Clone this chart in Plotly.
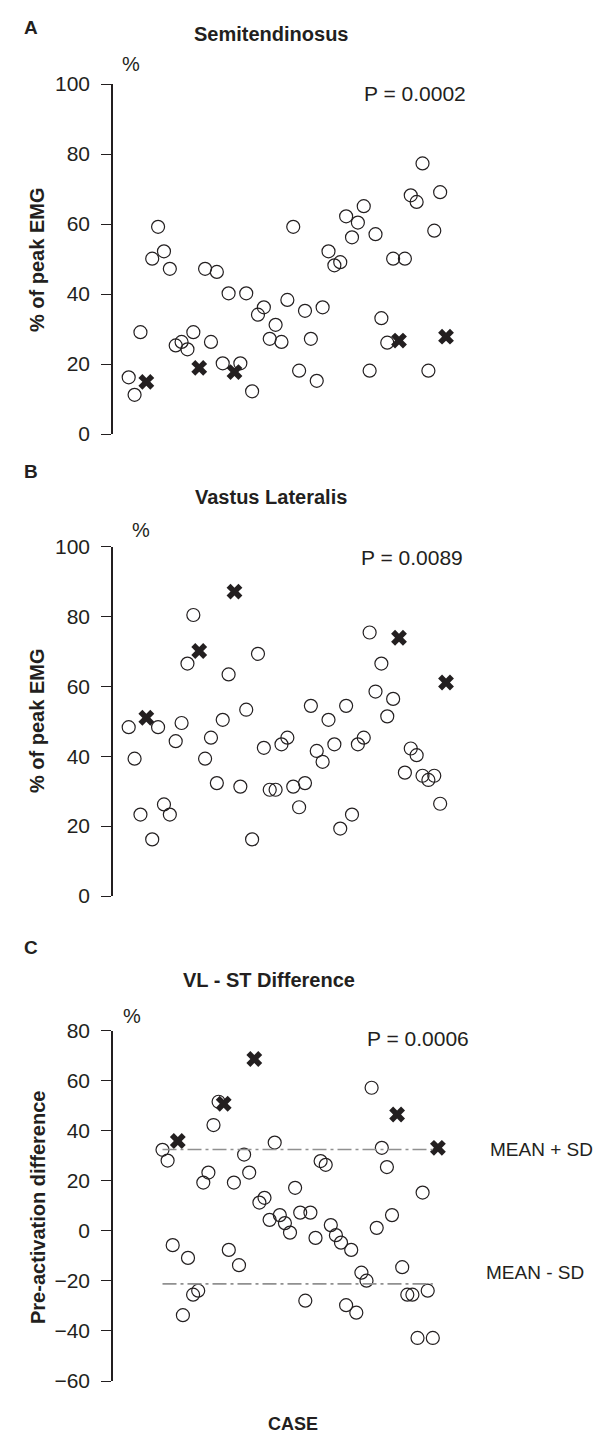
import plotly.graph_objects as go

# ---------------- data ----------------
cases = list(range(1, 56))
marked_cases = [4, 13, 19, 47, 55]

st_values = [16.2, 11.2, 29.1, 14.9, 50.1, 59.2, 52.2, 47.2, 25.3, 26.3,
             24.2, 29.1, 18.9, 47.2, 26.3, 46.3, 20.2, 40.2, 17.7, 20.2,
             40.2, 12.2, 34.1, 36.2, 27.2, 31.2, 26.3, 38.3, 59.2, 18.1,
             35.2, 27.2, 15.2, 36.2, 52.2, 48.2, 49.1, 62.2, 56.2, 60.4,
             65.1, 18.1, 57.1, 33.1, 26.1, 50.1, 26.7, 50.1, 68.2, 66.3,
             77.3, 18.1, 58.1, 69.1, 27.8]

vl_values = [48.3, 39.3, 23.3, 51.0, 16.2, 48.3, 26.2, 23.3, 44.3, 49.5,
             66.5, 80.4, 70.1, 39.3, 45.3, 32.3, 50.4, 63.4, 87.1, 31.3,
             53.3, 16.2, 69.3, 42.4, 30.4, 30.4, 43.4, 45.3, 31.3, 25.4,
             32.3, 54.4, 41.5, 38.4, 50.4, 43.4, 19.3, 54.4, 23.3, 43.4,
             45.3, 75.4, 58.5, 66.5, 51.4, 56.4, 73.9, 35.3, 42.2, 40.3,
             34.4, 33.2, 34.4, 26.4, 61.1]

diff_values = [32.4, 28.1, -5.7, 35.9, -33.7, -10.8, -25.5, -23.9, 19.3, 23.3,
               42.3, 51.6, 50.8, -7.6, 19.3, -13.7, 30.5, 23.3, 68.7, 11.3,
               13.2, 4.4, 35.3, 6.3, 3.1, -0.7, 17.2, 7.3, -27.9, 7.3,
               -2.8, 27.9, 26.4, 2.3, -1.7, -4.7, -29.7, -7.6, -32.7, -16.7,
               -19.9, 57.2, 1.2, 33.2, 25.5, 6.3, 46.5, -14.5, -25.5, -25.5,
               -42.8, 15.3, -23.9, -42.8, 33.2]

mean_plus_sd = 32.5
mean_minus_sd = -21.2
sd_line_cases = [1, 54]

panel_titles = ["Semitendinosus", "Vastus Lateralis", "VL - ST Difference"]
panel_letters = ["A", "B", "C"]
p_values = ["P = 0.0002", "P = 0.0089", "P = 0.0006"]
y_titles = ["% of peak EMG", "% of peak EMG", "Pre-activation difference"]

# ---------------- layout helpers ----------------
W, H = 602, 1432
FONT = "Liberation Sans, Arial, Helvetica, sans-serif"
INK = "#231f20"


def px(x):
    return x / W


def py(y):
    return 1 - y / H


fig = go.Figure()

panels = [
    dict(vals=st_values, xa="x", ya="y", xr=[-1.672, 58.74]),
    dict(vals=vl_values, xa="x2", ya="y2", xr=[-1.672, 58.74]),
    dict(vals=diff_values, xa="x3", ya="y3", xr=[-8.706, 60.9]),
]

for p in panels:
    open_x = [c for c in cases if c not in marked_cases]
    open_y = [v for c, v in zip(cases, p["vals"]) if c not in marked_cases]
    mark_x = [c for c in cases if c in marked_cases]
    mark_y = [v for c, v in zip(cases, p["vals"]) if c in marked_cases]
    fig.add_trace(go.Scatter(
        x=open_x, y=open_y, mode="markers", xaxis=p["xa"], yaxis=p["ya"],
        marker=dict(symbol="circle-open", size=13, color=INK, line=dict(width=1.2, color=INK)),
        cliponaxis=False, showlegend=False, hoverinfo="skip"))
    fig.add_trace(go.Scatter(
        x=mark_x, y=mark_y, mode="markers", xaxis=p["xa"], yaxis=p["ya"],
        marker=dict(symbol="x", size=14, color=INK, line=dict(width=0)),
        cliponaxis=False, showlegend=False, hoverinfo="skip"))

# mean +/- SD lines
for val in (mean_plus_sd, mean_minus_sd):
    fig.add_shape(type="line", xref="x3", yref="y3",
                  x0=sd_line_cases[0], x1=sd_line_cases[1], y0=val, y1=val,
                  line=dict(color="#909090", width=1.6, dash="14px,4px,3px,4px"))

x_dom = [px(105), px(460)]
y_doms = [[py(426), py(76)], [py(888), py(538.5)], [py(1373), py(1022.7)]]
y_ranges = [[0, 100], [0, 100], [-60, 80]]

axis_common = dict(
    showline=True, linecolor=INK, linewidth=1.5,
    ticks="outside", ticklen=10, tickwidth=1.2, tickcolor=INK,
    showgrid=False, zeroline=False, dtick=20,
    tickfont=dict(family=FONT, size=21, color=INK),
    ticklabelstandoff=7,
)

layout_axes = {}
for i, p in enumerate(panels):
    suffix = "" if i == 0 else str(i + 1)
    layout_axes["xaxis" + suffix] = dict(domain=x_dom, range=p["xr"], visible=False,
                                         anchor="y" + suffix)
    layout_axes["yaxis" + suffix] = dict(domain=y_doms[i], range=y_ranges[i],
                                         anchor="x" + suffix, **axis_common)

fig.update_layout(
    width=W, height=H,
    margin=dict(l=0, r=0, t=0, b=0, autoexpand=False),
    paper_bgcolor="white", plot_bgcolor="white",
    font=dict(family=FONT, color=INK),
    **layout_axes,
)

ann = []
# panel letters
for letter, (x, y) in zip(panel_letters, [(23, 19), (23, 463), (23, 940)]):
    ann.append(dict(text="<b>%s</b>" % letter, x=px(x), y=py(y), font=dict(size=19)))
# titles
for t, (x, y) in zip(panel_titles, [(263, 26), (263, 489), (261, 972)]):
    ann.append(dict(text="<b>%s</b>" % t, x=px(x), y=py(y), font=dict(size=20)))
# percent signs
for (x, y) in [(123, 56), (133, 522), (124, 1008)]:
    ann.append(dict(text="%", x=px(x), y=py(y), font=dict(size=20)))
# p values
for t, (x, y) in zip(p_values, [(407, 86), (404, 549.5), (410, 1030)]):
    ann.append(dict(text=t, x=px(x), y=py(y), font=dict(size=21)))
# y titles
for t, (x, y) in zip(y_titles, [(29, 252), (29, 713), (30, 1200)]):
    ann.append(dict(text="<b>%s</b>" % t, x=px(x), y=py(y), textangle=-90, font=dict(size=20)))
# mean +/- sd labels
ann.append(dict(text="MEAN + SD", x=px(533), y=py(1141), font=dict(size=19)))
ann.append(dict(text="MEAN - SD", x=px(527), y=py(1264), font=dict(size=19)))
# case label
ann.append(dict(text="<b>CASE</b>", x=px(285), y=py(1416), font=dict(size=18)))

for a in ann:
    a.update(xref="paper", yref="paper", showarrow=False, xanchor="center", yanchor="middle")
    a["font"].update(family=FONT, color=INK)
fig.update_layout(annotations=ann)

fig.write_html("out.html")
